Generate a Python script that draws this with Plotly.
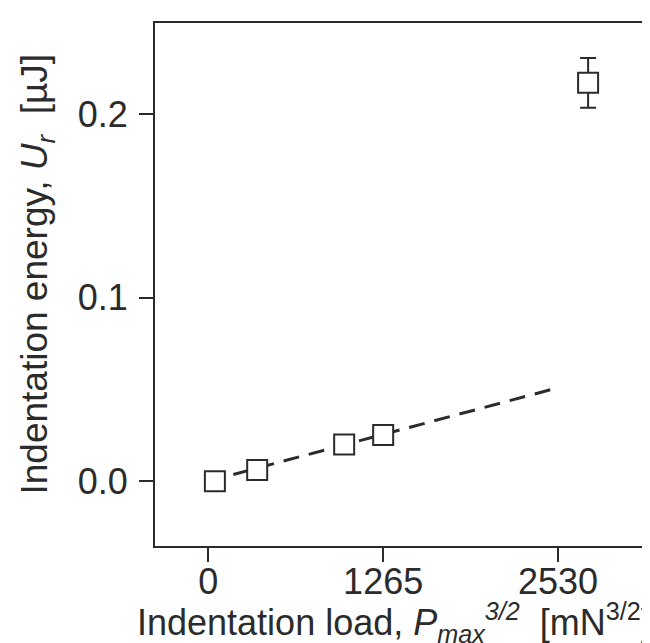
import plotly.graph_objects as go

# Data
load_x = [48, 354, 983, 1265, 2747]
energy_y = [0.0, 0.0061, 0.020, 0.0251, 0.2169]
energy_err = [0, 0, 0, 0, 0.0135]
fit_x = [0, 2530]
fit_y = [0.0, 0.0509]
x_ticks = [0, 1265, 2530]
y_ticks = [0.0, 0.1, 0.2]

INK = "#2b2b2b"
FONT = "Liberation Sans, Arial, Helvetica, sans-serif"

fig = go.Figure()
fig.add_trace(go.Scatter(
    x=fit_x, y=fit_y, mode="lines",
    line=dict(color=INK, width=3, dash="16px,10px"),
    showlegend=False, hoverinfo="skip"))
fig.add_trace(go.Scatter(
    x=load_x, y=energy_y, mode="markers",
    marker=dict(symbol="square", size=20, color="white",
                line=dict(color=INK, width=2)),
    error_y=dict(type="data", array=energy_err, visible=True,
                 color=INK, thickness=2, width=8),
    showlegend=False))

fig.update_layout(
    width=650, height=643,
    margin=dict(l=147, r=15, t=15, b=105),
    paper_bgcolor="white", plot_bgcolor="white",
    font=dict(family=FONT, size=36, color=INK),
    xaxis=dict(range=[-385, 3144], tickvals=x_ticks,
               ticktext=[str(v) for v in x_ticks],
               automargin=False, ticklabelstandoff=-11,
               showline=True, linewidth=2, linecolor=INK, mirror=True,
               ticks="outside", ticklen=14, tickwidth=2, tickcolor=INK,
               showgrid=False, zeroline=False),
    yaxis=dict(range=[-0.0353, 0.2495], tickvals=y_ticks,
               tickformat=".1f", automargin=False, ticklabelstandoff=4,
               showline=True, linewidth=2, linecolor=INK, mirror=True,
               ticks="outside", ticklen=14, tickwidth=2, tickcolor=INK,
               showgrid=False, zeroline=False),
    annotations=[
        dict(text="Indentation energy, <i>U<sub>r</sub></i>  [µJ]",
             textangle=-90, xref="paper", yref="paper",
             x=-0.292, y=0.52, xanchor="left", yanchor="middle",
             showarrow=False, font=dict(size=37, color=INK)),
        dict(text="Indentation load, <i>P<sub>max</sub><sup>3/2</sup></i>  [mN<sup>3/2</sup>]",
             xref="paper", yref="paper", x=0.4898, y=-0.146,
             xanchor="center", yanchor="middle",
             showarrow=False, font=dict(size=36, color=INK)),
    ],
)

fig.write_html("out.html")
